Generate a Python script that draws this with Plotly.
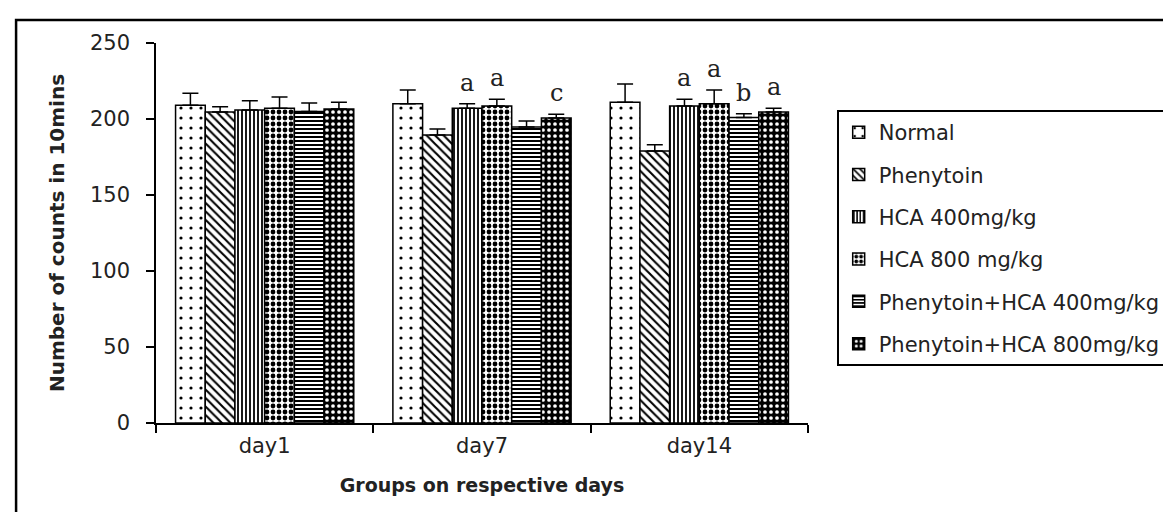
import plotly.graph_objects as go

days = ["day1", "day7", "day14"]
groups = ["Normal", "Phenytoin", "HCA 400mg/kg", "HCA 800 mg/kg",
          "Phenytoin+HCA 400mg/kg", "Phenytoin+HCA 800mg/kg"]

normal = [209, 210, 211]
phenytoin = [204.6, 189.5, 179]
hca400 = [206, 207, 208.5]
hca800 = [207, 208.5, 210]
phen_hca400 = [205, 194.7, 201]
phen_hca800 = [206.6, 200.7, 204.6]

normal_err = [8, 9, 12]
phenytoin_err = [3.5, 4, 4]
hca400_err = [6, 3, 4.5]
hca800_err = [7.5, 4.5, 9]
phen_hca400_err = [5.5, 4, 2.5]
phen_hca800_err = [4.5, 2.5, 2.5]

normal_sig = ["", "", ""]
phenytoin_sig = ["", "", ""]
hca400_sig = ["", "a", "a"]
hca800_sig = ["", "a", "a"]
phen_hca400_sig = ["", "", "b"]
phen_hca800_sig = ["", "c", "a"]

values = [normal, phenytoin, hca400, hca800, phen_hca400, phen_hca800]
errors = [normal_err, phenytoin_err, hca400_err, hca800_err, phen_hca400_err, phen_hca800_err]
sigs = [normal_sig, phenytoin_sig, hca400_sig, hca800_sig, phen_hca400_sig, phen_hca800_sig]

patterns = [
    dict(shape=".", fgcolor="black", bgcolor="white", size=10, solidity=0.08),
    dict(shape="\\", fgcolor="black", bgcolor="white", size=6, solidity=0.35),
    dict(shape="|", fgcolor="black", bgcolor="white", size=4, solidity=0.45),
    dict(shape=".", fgcolor="black", bgcolor="white", size=6, solidity=0.5),
    dict(shape="-", fgcolor="black", bgcolor="white", size=4, solidity=0.5),
    dict(shape=".", fgcolor="white", bgcolor="black", size=6, solidity=0.3),
]

BARGAP = 0.18

fig = go.Figure()
for name, v, e, p in zip(groups, values, errors, patterns):
    fig.add_trace(go.Bar(
        x=days, y=v, name=name, legendgroup=name,
        marker=dict(color=p["bgcolor"], line=dict(color="black", width=1.5),
                    pattern=dict(fillmode="replace", **p)),
        error_y=dict(type="data", symmetric=False, array=e, arrayminus=[0] * len(e),
                     color="black", thickness=1.5, width=8),
    ))

n = len(groups)
gw = 1 - BARGAP
bw = gw / n
annotations = []
for k, (v, e, s) in enumerate(zip(values, errors, sigs)):
    for i, lab in enumerate(s):
        if lab:
            annotations.append(dict(
                x=i - gw / 2 + (k + 0.5) * bw, y=v[i] + e[i], xref="x", yref="y",
                text=lab, showarrow=False, yanchor="bottom", yshift=5,
                font=dict(family="DejaVu Serif", size=24, color="#222")))

fig.update_layout(
    width=1171, height=512, autosize=False,
    margin=dict(l=148, r=366, t=35, b=97),
    paper_bgcolor="white", plot_bgcolor="white",
    barmode="group", bargap=BARGAP, bargroupgap=0,
    font=dict(family="DejaVu Sans", color="#222"),
    legend=dict(x=1.044, y=0.8237, xanchor="left", yanchor="top",
                bordercolor="black", borderwidth=2, bgcolor="white",
                font=dict(family="DejaVu Sans", size=21, color="#222"),
                tracegroupgap=12, traceorder="grouped"),
    annotations=annotations,
    shapes=[dict(type="rect", xref="paper", yref="paper",
                 x0=-0.2146, x1=1.563, y0=-0.263, y1=1.0605,
                 line=dict(color="black", width=2.5), fillcolor="rgba(0,0,0,0)")],
    xaxis=dict(showline=True, linecolor="black", linewidth=1.5, ticks="outside",
               tickson="boundaries", ticklen=8, tickcolor="black", tickwidth=1.5,
               showgrid=False, tickfont=dict(size=21, color="#222"),
               ticklabelstandoff=3,
               title=dict(text="<b>Groups on respective days</b>", standoff=22,
                          font=dict(size=19, color="#222"))),
    yaxis=dict(range=[0, 250], dtick=50, showline=True, linecolor="black", linewidth=1.5,
               ticks="outside", ticklen=8, tickcolor="black", tickwidth=1.5,
               ticklabelstandoff=12,
               showgrid=False, zeroline=False, tickfont=dict(size=21, color="#222"),
               title=dict(text="<b>Number of counts in 10mins</b>", standoff=20,
                          font=dict(size=20, color="#222"))),
)

fig.write_html("out.html")
